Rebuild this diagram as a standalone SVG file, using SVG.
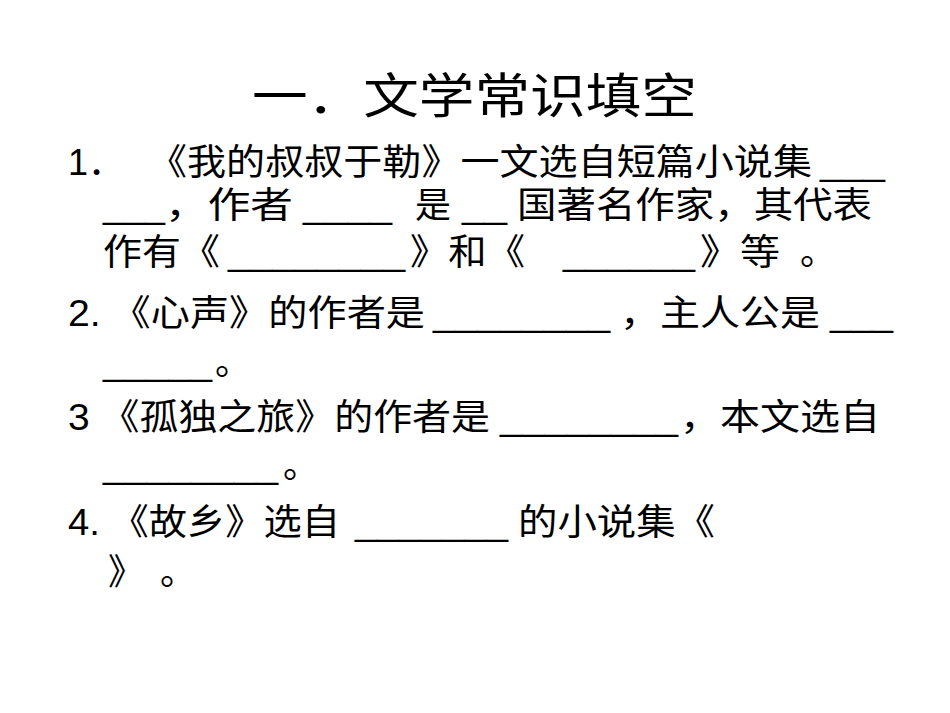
<svg xmlns="http://www.w3.org/2000/svg" width="950" height="713" viewBox="0 0 950 713">
<style>
text{font-family:"Liberation Sans","Noto Sans CJK SC",sans-serif;font-size:36px;fill:#000}
.t{font-size:48px}
</style>
<rect width="950" height="713" fill="#fff"/>
<g id="title"><text class="t" x="252" y="113" textLength="445" lengthAdjust="spacingAndGlyphs">一．文学常识填空</text></g>
<g id="q1">
<text x="68" y="175">1．</text>
<text x="148" y="175" textLength="664" lengthAdjust="spacingAndGlyphs">《我的叔叔于勒》一文选自短篇小说集</text>
<text x="820" y="175" textLength="65" lengthAdjust="spacingAndGlyphs">___</text>
<text x="103" y="218" textLength="62" lengthAdjust="spacingAndGlyphs">___</text>
<text x="165" y="218" textLength="128" lengthAdjust="spacingAndGlyphs">，作者</text>
<text x="303" y="218" textLength="89" lengthAdjust="spacingAndGlyphs">____</text>
<text x="415" y="218">是</text>
<text x="462" y="218" textLength="45" lengthAdjust="spacingAndGlyphs">__</text>
<text x="517" y="218" textLength="355" lengthAdjust="spacingAndGlyphs">国著名作家，其代表</text>
<text x="103" y="265" textLength="117" lengthAdjust="spacingAndGlyphs">作有《</text>
<text x="228" y="265" textLength="177" lengthAdjust="spacingAndGlyphs">________</text>
<text x="410" y="265" textLength="115" lengthAdjust="spacingAndGlyphs">》和《</text>
<text x="563" y="265" textLength="132" lengthAdjust="spacingAndGlyphs">______</text>
<text x="700" y="265" textLength="80" lengthAdjust="spacingAndGlyphs">》等</text>
<text x="800" y="265">。</text>
</g>
<g id="q2">
<text x="68" y="326" textLength="357" lengthAdjust="spacingAndGlyphs">2. 《心声》的作者是</text>
<text x="433" y="326" textLength="177" lengthAdjust="spacingAndGlyphs">________</text>
<text x="620" y="326" textLength="200" lengthAdjust="spacingAndGlyphs">，主人公是</text>
<text x="830" y="326" textLength="63" lengthAdjust="spacingAndGlyphs">___</text>
<text x="103" y="375" textLength="109" lengthAdjust="spacingAndGlyphs">_____</text>
<text x="215" y="375">。</text>
</g>
<g id="q3">
<text x="68" y="430" textLength="422" lengthAdjust="spacingAndGlyphs">3 《孤独之旅》的作者是</text>
<text x="500" y="430" textLength="178" lengthAdjust="spacingAndGlyphs">________</text>
<text x="680" y="430" textLength="200" lengthAdjust="spacingAndGlyphs">，本文选自</text>
<text x="103" y="478" textLength="175" lengthAdjust="spacingAndGlyphs">________</text>
<text x="283" y="478">。</text>
</g>
<g id="q4">
<text x="68" y="535" textLength="272" lengthAdjust="spacingAndGlyphs">4. 《故乡》选自</text>
<text x="355" y="535" textLength="153" lengthAdjust="spacingAndGlyphs">_______</text>
<text x="518" y="535" textLength="197" lengthAdjust="spacingAndGlyphs">的小说集《</text>
<text x="108" y="585">》</text>
<text x="160" y="585">。</text>
</g>
<g id="connectors"></g>
</svg>
